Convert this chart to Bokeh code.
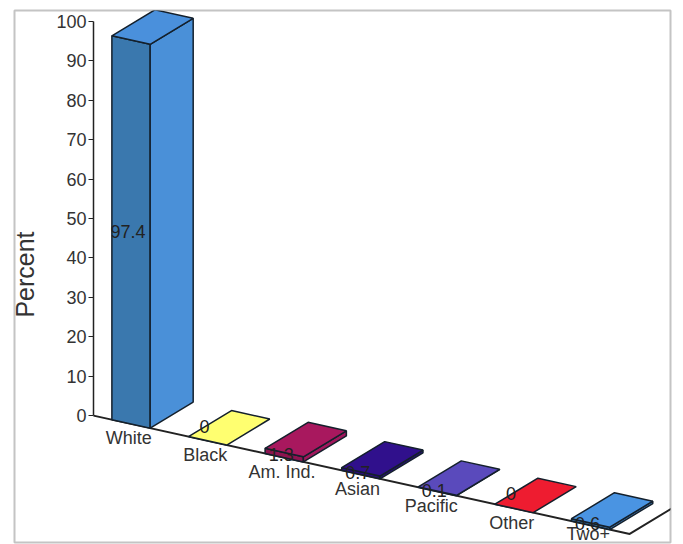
import math
from bokeh.plotting import figure
from bokeh.models import Range1d, ColumnDataSource
from bokeh.core.properties import value
from bokeh.embed import file_html
from bokeh.resources import INLINE

categories = ["White", "Black", "Am. Ind.", "Asian", "Pacific", "Other", "Two+"]
percent = [97.4, 0, 1.3, 0.7, 0.1, 0, 0.6]
value_labels = ["97.4", "0", "1.3", "0.7", "0.1", "0", "0.6"]
y_ticks = list(range(0, 101, 10))

front_colors = ["#3a78ae", "#f2f25e", "#8e1450", "#2a0d7c", "#4a3ca6", "#c81a2a", "#3a78ae"]
side_colors = ["#4a90d8", "#f2f25e", "#a0175c", "#2a0d7c", "#4a3ca6", "#c81a2a", "#3f80c4"]
top_colors = ["#4a90dc", "#ffff70", "#a8185e", "#30108c", "#5a4abc", "#ee1c30", "#4a94e2"]

# oblique projection: category position u, depth w, value v -> plot coordinates
STEP_X, STEP_DROP = 76.6, 16.9
DEPTH_X, DEPTH_RISE = 43.0, 26.0
PX_PER_VALUE = 3.94
BAR_START, BAR_WIDTH = 0.24, 0.5


def project(u, w, v):
    return (u * STEP_X + w * DEPTH_X,
            v + (w * DEPTH_RISE - u * STEP_DROP) / PX_PER_VALUE)


def face(points):
    pts = [project(*pt) for pt in points]
    return [pt[0] for pt in pts], [pt[1] for pt in pts]


p = figure(width=675, height=544, output_backend="svg", toolbar_location=None,
           x_range=Range1d(-79, 577), y_range=Range1d(-32.2, 102.8),
           min_border_left=14, min_border_right=5, min_border_top=10, min_border_bottom=2,
           x_axis_location=None, background_fill_color="white",
           outline_line_color="#c4c4c4", outline_line_width=2)
p.grid.visible = False

ax = p.yaxis[0]
ax.fixed_location = 0
ax.bounds = (0, 100)
ax.ticker = y_ticks
ax.minor_tick_line_color = None
ax.major_tick_in = 0
ax.major_tick_out = 5
ax.major_label_standoff = 2
ax.major_label_text_font = "Liberation Sans"
ax.major_label_text_font_size = "18px"
ax.major_label_text_color = "#333333"
ax.axis_line_color = "#222222"
ax.axis_line_width = 1.5
ax.major_tick_line_color = "#222222"

# axis title, centred on the frame rather than on the axis bounds
p.text([-69], [35.8], text=["Percent"], angle=math.pi / 2, text_align="center",
       text_baseline="middle", text_font=value("Liberation Sans"),
       text_font_size="25px", text_color="#333333")

# floor edge along the categories and the wall edge at its far end
n = len(categories)
bx, by = face([(0, 0, 0), (n, 0, 0), (n, 1, 0)])
p.line(bx, by, line_color="#222222", line_width=2)

for i, v in enumerate(percent):
    u0, u1 = i + BAR_START, i + BAR_START + BAR_WIDTH
    if v > 0:
        fx, fy = face([(u0, 0, 0), (u1, 0, 0), (u1, 0, v), (u0, 0, v)])
        p.patch(fx, fy, fill_color=front_colors[i], line_color="#14202c", line_width=1.5)
        sx, sy = face([(u1, 0, 0), (u1, 1, 0), (u1, 1, v), (u1, 0, v)])
        p.patch(sx, sy, fill_color=side_colors[i], line_color="#14202c", line_width=1.5)
    tx, ty = face([(u0, 0, v), (u1, 0, v), (u1, 1, v), (u0, 1, v)])
    p.patch(tx, ty, fill_color=top_colors[i], line_color="#14202c", line_width=1.5)

# category labels sit under the floor edge
label_pos = [project(i + 0.46, 0, 0) for i in range(n)]
cat_src = ColumnDataSource(dict(
    x=[q[0] for q in label_pos], y=[q[1] for q in label_pos], text=categories,
    xoff=[0, 0, 0, -1, -4, 0, 0],
    off=[15, 15, 15, 15, 15, 15, 9]))
p.text("x", "y", "text", source=cat_src, x_offset="xoff", y_offset="off", text_align="center",
       text_baseline="middle", text_font=value("Liberation Sans"),
       text_font_size="18px", text_color="#333333")

# value labels sit mid-height on the front face; zero bars float above the floor
val_pos = [project(i + BAR_START + 0.21, 0, v / 2) for i, v in enumerate(percent)]
val_src = ColumnDataSource(dict(
    x=[q[0] for q in val_pos], y=[q[1] for q in val_pos], text=value_labels,
    off=[-14 if v == 0 else 0 for v in percent]))
p.text("x", "y", "text", source=val_src, y_offset="off", text_align="center",
       text_baseline="middle", text_font=value("Liberation Sans"),
       text_font_size="18px", text_color="#222222")

open("out.html", "w").write(file_html(p, INLINE))
